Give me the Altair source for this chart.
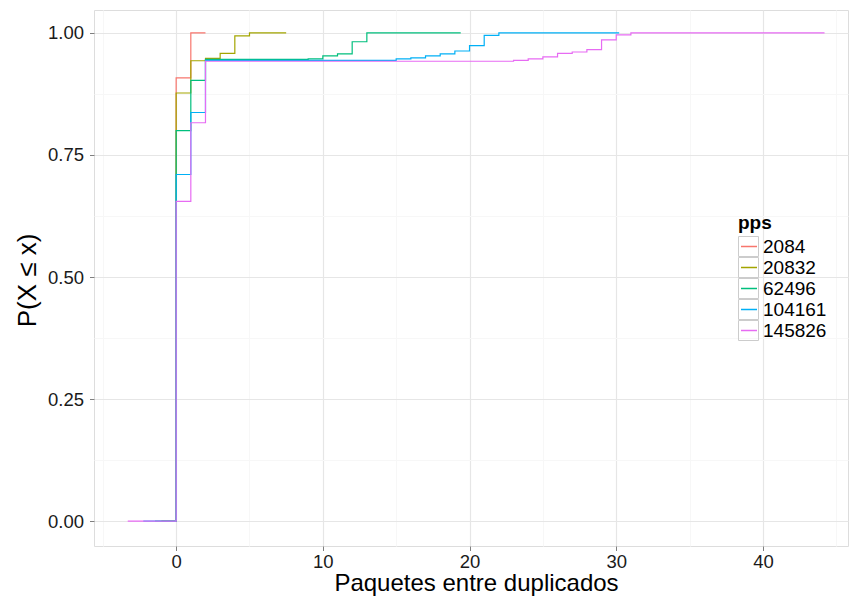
import altair as alt
import pandas as pd

# Empirical CDF of packets between duplicates, one step curve per packet rate (pps).
series_names = ["2084", "20832", "62496", "104161", "145826"]
series_colors = ["#F8766D", "#A3A500", "#00BF7D", "#00B0F6", "#E76BF3"]

x_2084 = [-1.0, 0, 1, 2.0]
y_2084 = [0.0, 0.908, 1.0, 1.0]

x_20832 = [-1.0, 0, 1, 2, 3, 4, 5, 7.5]
y_20832 = [0.0, 0.877, 0.943, 0.948, 0.958, 0.994, 1.0, 1.0]

x_62496 = [-1.44, 0, 1, 2, 9, 10, 11, 12, 13, 19.4]
y_62496 = [0.0, 0.800, 0.903, 0.946, 0.947, 0.953, 0.957, 0.982, 1.0, 1.0]

x_104161 = [-2.24, 0, 1, 2, 15, 16, 17, 18, 19, 20, 21, 22, 30.2]
y_104161 = [0.0, 0.710, 0.837, 0.944, 0.947, 0.949, 0.953, 0.957, 0.963, 0.974, 0.995, 1.0, 1.0]

x_145826 = [-3.3, 0, 1, 2, 23, 24, 25, 26, 27, 28, 29, 30, 31, 44.2]
y_145826 = [0.0, 0.655, 0.816, 0.942, 0.944, 0.947, 0.951, 0.958, 0.961, 0.966, 0.986, 0.996, 1.0, 1.0]

x_ticks = [-5, 0, 5, 10, 15, 20, 25, 30, 35, 40, 45]
y_ticks = [0, 0.125, 0.25, 0.375, 0.5, 0.625, 0.75, 0.875, 1.0]

xs = [x_2084, x_20832, x_62496, x_104161, x_145826]
ys = [y_2084, y_20832, y_62496, y_104161, y_145826]

# The key-box legend uses its own domain so that it is not merged with the colour legend.
box_keys = [n + " " for n in series_names]

rows = []
for name, key, xv, yv in zip(series_names, box_keys, xs, ys):
    for a, b in zip(xv, yv):
        rows.append({"x": a, "y": b, "pps": name, "clave": key})
df = pd.DataFrame(rows)

FONT = "Liberation Sans"
GRID_MAJOR = "#e6e6e6"
GRID_MINOR = "#f7f7f7"
FRAME = "#7f7f7f"

x_major = "datum.value % 10 === 0"
y_major = "abs(datum.value*4 - round(datum.value*4)) < 0.001"

x_axis = alt.Axis(
    values=x_ticks,
    title="Paquetes entre duplicados",
    titleFontSize=24,
    titleFontWeight="normal",
    titleColor="#000000",
    titleX=382,
    titleY=44,
    titleAlign="center",
    titleBaseline="alphabetic",
    labelExpr=f"{x_major} ? datum.label : ''",
    labelFontSize=18.5,
    labelColor="#1a1a1a",
    labelPadding=2,
    labelFlush=False,
    tickSize=4.5,
    tickColor=FRAME,
    tickOpacity={"condition": {"test": x_major, "value": 1}, "value": 0},
    gridColor={"condition": {"test": x_major, "value": GRID_MAJOR}, "value": GRID_MINOR},
    gridWidth=1.2,
    domain=False,
)

y_axis = alt.Axis(
    values=y_ticks,
    title="P(X ≤ x)",
    titleFontSize=26,
    titleFontWeight="normal",
    titleColor="#000000",
    titleAngle=-90,
    titleX=-59,
    titleY=270,
    titleAlign="center",
    titleBaseline="alphabetic",
    labelExpr=f"{y_major} ? format(datum.value, '.2f') : ''",
    labelFontSize=18.5,
    labelColor="#1a1a1a",
    labelPadding=6,
    labelFlush=False,
    tickSize=4.5,
    tickColor=FRAME,
    tickOpacity={"condition": {"test": y_major, "value": 1}, "value": 0},
    gridColor={"condition": {"test": y_major, "value": GRID_MAJOR}, "value": GRID_MINOR},
    gridWidth=1.2,
    domain=False,
)

x_enc = alt.X("x:Q", scale=alt.Scale(domain=[-5.6, 45.8], nice=False, zero=False), axis=x_axis)
y_enc = alt.Y("y:Q", scale=alt.Scale(domain=[-0.051, 1.047], nice=False, zero=False), axis=y_axis)

LEG_X = 644
LEG_Y = 204
legend_layout = dict(
    orient="none",
    legendX=LEG_X,
    symbolSize=400,
    labelFontSize=19,
    labelOffset=3,
    rowPadding=0,
    clipHeight=21,
)

lines = alt.Chart(df).mark_line(interpolate="step-after", strokeWidth=1.2).encode(
    x=x_enc,
    y=y_enc,
    color=alt.Color(
        "pps:N",
        sort=series_names,
        scale=alt.Scale(domain=series_names, range=series_colors),
        legend=alt.Legend(
            symbolType="M-0.8,0H0.8",
            symbolStrokeWidth=1.5,
            legendY=LEG_Y,
            title="pps",
            titleFontSize=19,
            titleFontWeight="bold",
            titleColor="#000000",
            titlePadding=3,
            labelColor="#000000",
            **legend_layout,
        ),
    ),
)

# Invisible points that only carry the grey key boxes of the legend (no title, no labels).
key_boxes = alt.Chart(df).mark_point(opacity=0, filled=False, strokeWidth=1).encode(
    x="x:Q",
    y="y:Q",
    shape=alt.Shape(
        "clave:N",
        sort=box_keys,
        scale=alt.Scale(domain=box_keys, range=["square"] * len(box_keys)),
        legend=alt.Legend(
            legendY=LEG_Y + 22,
            title=None,
            labelExpr="''",
            symbolStrokeWidth=1,
            symbolStrokeColor="#cccccc",
            symbolFillColor="transparent",
            symbolOpacity=1,
            **legend_layout,
        ),
    ),
)

chart = (
    alt.layer(key_boxes, lines)
    .properties(
        width=754,
        height=536,
        autosize=alt.AutoSizeParams(type="none"),
        padding={"left": 94, "top": 10, "right": 2, "bottom": 52},
        background="white",
    )
    .configure_view(stroke=FRAME, strokeWidth=1)
    .configure(font=FONT)
)

chart.save("out.html", embed_options={"renderer": "svg", "actions": False})
